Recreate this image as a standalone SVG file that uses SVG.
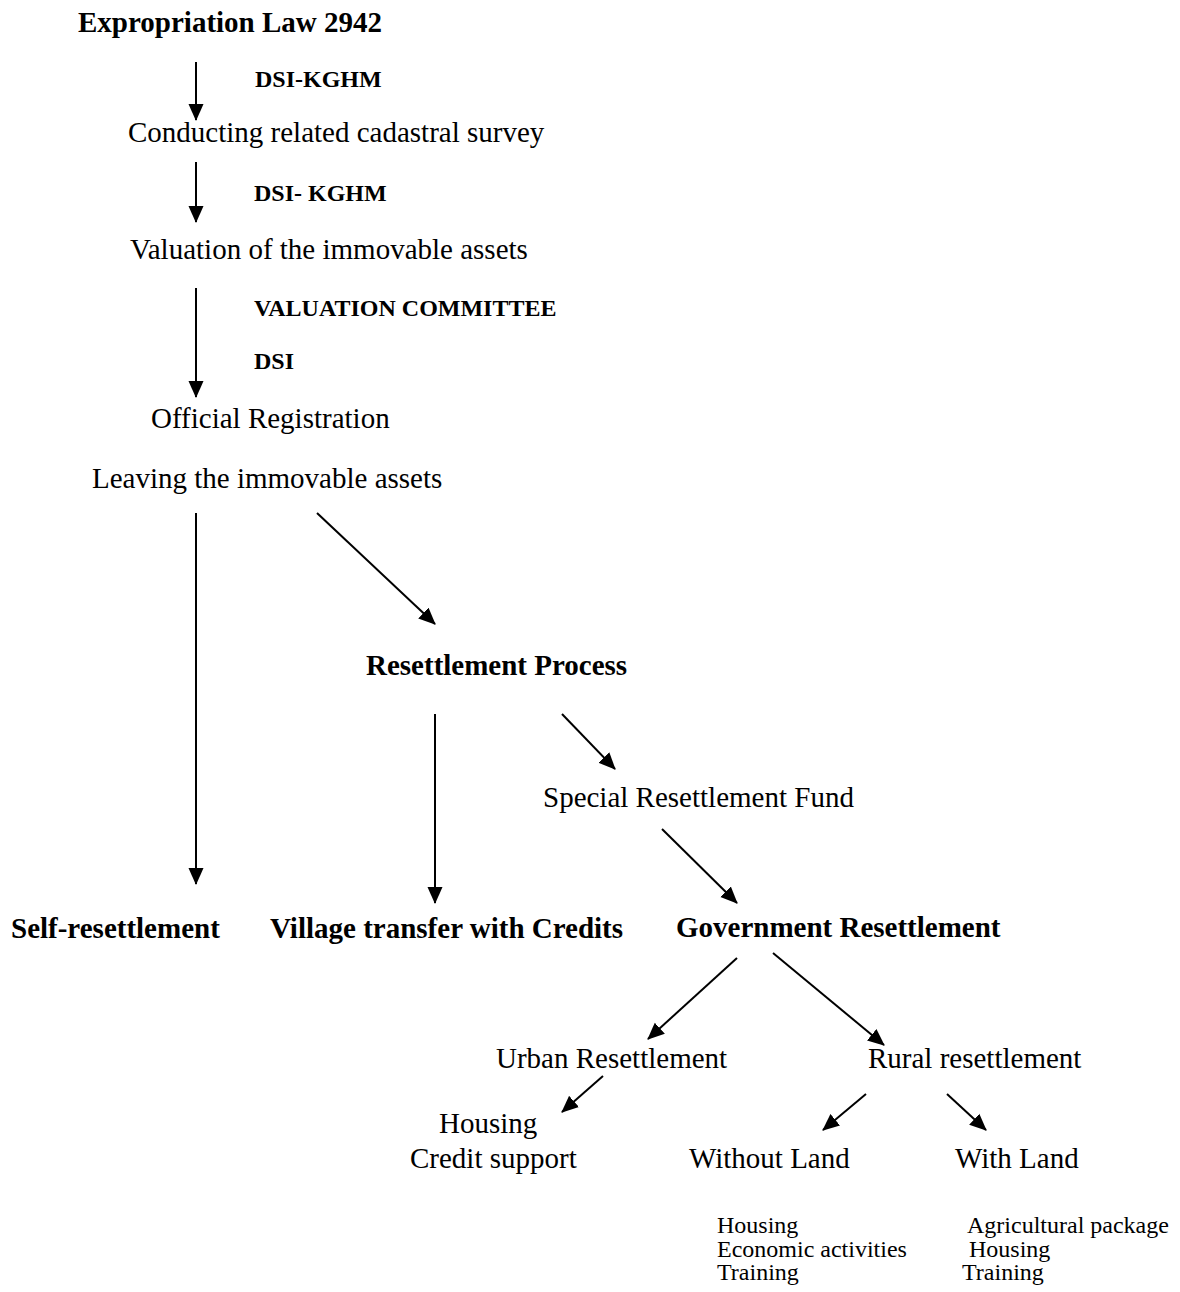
<svg xmlns="http://www.w3.org/2000/svg" width="1180" height="1292" viewBox="0 0 1180 1292">
  <style>
    text { font-family: "Liberation Serif", "Times New Roman", serif; fill: #000; }
    .main { font-size: 29px; }
    .bold { font-weight: bold; }
    .agent { font-size: 24px; font-weight: bold; }
    .item { font-size: 24px; }
    .conn { stroke: #000; stroke-width: 2; fill: none; marker-end: url(#head); }
  </style>
  <defs>
    <marker id="head" markerUnits="userSpaceOnUse" markerWidth="17" markerHeight="16" refX="16" refY="8" orient="auto">
      <path d="M0,0.5 L17,8 L0,15.5 Z" fill="#000"/>
    </marker>
  </defs>
  <rect width="1180" height="1292" fill="#fff"/>

  <g id="connectors">
    <line class="conn" x1="196" y1="62" x2="196" y2="120"/>
    <line class="conn" x1="196" y1="162" x2="196" y2="222"/>
    <line class="conn" x1="196" y1="288" x2="196" y2="397"/>
    <line class="conn" x1="196" y1="513" x2="196" y2="884"/>
    <line class="conn" x1="317" y1="513" x2="435" y2="624"/>
    <line class="conn" x1="435" y1="714" x2="435" y2="903"/>
    <line class="conn" x1="562" y1="714" x2="615" y2="769"/>
    <line class="conn" x1="662" y1="829" x2="737" y2="903"/>
    <line class="conn" x1="737" y1="958" x2="648" y2="1039"/>
    <line class="conn" x1="773" y1="953" x2="884" y2="1045"/>
    <line class="conn" x1="603" y1="1076" x2="562" y2="1112"/>
    <line class="conn" x1="866" y1="1094" x2="823" y2="1130"/>
    <line class="conn" x1="947" y1="1094" x2="986" y2="1130"/>
  </g>

  <g id="law"><text class="main bold" x="78" y="32">Expropriation Law 2942</text></g>
  <g id="agent-survey"><text class="agent" x="255" y="87">DSI-KGHM</text></g>
  <g id="survey"><text class="main" x="128" y="142">Conducting related cadastral survey</text></g>
  <g id="agent-valuation"><text class="agent" x="254" y="201">DSI- KGHM</text></g>
  <g id="valuation"><text class="main" x="130" y="259">Valuation of the immovable assets</text></g>
  <g id="agent-registration">
    <text class="agent" x="254" y="316">VALUATION COMMITTEE</text>
    <text class="agent" x="254" y="369">DSI</text>
  </g>
  <g id="registration"><text class="main" x="151" y="428">Official Registration</text></g>
  <g id="leaving"><text class="main" x="92" y="488">Leaving the immovable assets</text></g>
  <g id="resettlement-process"><text class="main bold" x="366" y="675">Resettlement Process</text></g>
  <g id="special-fund"><text class="main" x="543" y="807">Special Resettlement Fund</text></g>
  <g id="self"><text class="main bold" x="11" y="938">Self-resettlement</text></g>
  <g id="village"><text class="main bold" x="270" y="938">Village transfer with Credits</text></g>
  <g id="government"><text class="main bold" x="676" y="937">Government Resettlement</text></g>
  <g id="urban"><text class="main" x="496" y="1068">Urban Resettlement</text></g>
  <g id="rural"><text class="main" x="868" y="1068">Rural resettlement</text></g>
  <g id="urban-support">
    <text class="main" x="439" y="1133">Housing</text>
    <text class="main" x="410" y="1168">Credit support</text>
  </g>
  <g id="without-land"><text class="main" x="689" y="1168">Without Land</text></g>
  <g id="with-land"><text class="main" x="955" y="1168">With Land</text></g>
  <g id="without-land-items">
    <text class="item" x="717" y="1233">Housing</text>
    <text class="item" x="717" y="1257">Economic activities</text>
    <text class="item" x="717" y="1280">Training</text>
  </g>
  <g id="with-land-items">
    <text class="item" x="967" y="1233">Agricultural package</text>
    <text class="item" x="969" y="1257">Housing</text>
    <text class="item" x="962" y="1280">Training</text>
  </g>
</svg>
